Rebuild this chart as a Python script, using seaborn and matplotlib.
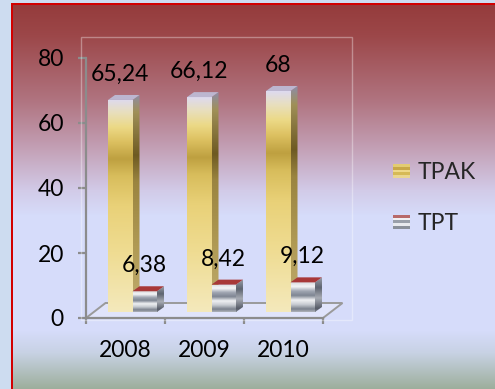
import numpy as np
import pandas as pd
import matplotlib
matplotlib.use("Agg")
import matplotlib.pyplot as plt
import seaborn as sns
from matplotlib.patches import Rectangle, Polygon
from matplotlib.colors import to_rgb
from matplotlib.legend_handler import HandlerBase

# ---- data ----
years = ["2008", "2009", "2010"]
tpak = [65.24, 66.12, 68]
tpt = [6.38, 8.42, 9.12]
series_names = ["TPAK", "TPT"]
yticks = [0, 20, 40, 60, 80]

sns.set_style("white")
plt.rcParams["font.family"] = ["Lato", "DejaVu Sans"]

W, H = 495, 389
fig = plt.figure(figsize=(W / 100, H / 100), dpi=100)


def px_box(left, top, right, bottom):
    return [left / W, 1 - bottom / H, (right - left) / W, (bottom - top) / H]


def ramp(stops, n):
    """Vertical colour ramp, stops given as (fraction_from_top, colour)."""
    pos = np.array([s[0] for s in stops])
    cols = np.array([to_rgb(s[1]) for s in stops])
    t = np.linspace(0, 1, n)
    out = np.stack([np.interp(t, pos, cols[:, k]) for k in range(3)], axis=-1)
    return out[:, None, :]


# ---- slide background ----
bg_stops = [(0, "#943a3a"), (35, "#9c4749"), (100, "#b07480"), (150, "#c4a2b8"),
            (190, "#d2cbe8"), (215, "#d6dcfa"), (330, "#d6dcfa"), (352, "#c8d2e4"),
            (389, "#9cae9a")]
rows = np.arange(H)
bgc = np.array([to_rgb(c) for _, c in bg_stops])
bpos = np.array([p for p, _ in bg_stops])
img = np.stack([np.interp(rows, bpos, bgc[:, k]) for k in range(3)], axis=-1)
img = np.repeat(img[:, None, :], W, axis=1)
outer = np.array(to_rgb("#cddcf0"))
red = np.array(to_rgb("#d20000"))
img[:3, :] = outer
img[:, :11] = outer
img[3:5, 11:] = red
img[3:, 11:13] = red
bg = fig.add_axes([0, 0, 1, 1], zorder=-10)
bg.imshow(img, extent=[0, W, H, 0], aspect="auto", interpolation="nearest")
bg.axis("off")

# faint plot-area outline
fig.patches.append(Rectangle((81 / W, 1 - 320 / H), (352 - 81) / W, (320 - 37) / H,
                             transform=fig.transFigure, fill=False,
                             edgecolor="white", alpha=0.35, lw=1))

# ---- frame axes: value axis, floor, category ticks ----
axis_grey = "#8c8c8c"
ax = fig.add_axes(px_box(86, 58, 323, 318))
ax.set_facecolor("none")
ax.set_xlim(-0.5, 2.5)
ax.set_ylim(0, 80)
for s in ["top", "right"]:
    ax.spines[s].set_visible(False)
for s in ["left", "bottom"]:
    ax.spines[s].set_color(axis_grey)
    ax.spines[s].set_linewidth(1.6)
ax.set_yticks(yticks)
ax.set_yticklabels([str(v) for v in yticks])
ax.set_xticks(range(len(years)))
ax.set_xticklabels(years)
ax.set_xticks([-0.5, 0.5, 1.5, 2.5], minor=True)
ax.tick_params(axis="y", length=6, width=1.6, color=axis_grey, pad=10,
               labelsize=16.5, labelcolor="black", left=True)
ax.tick_params(axis="x", which="major", length=0, pad=16, labelsize=16.5,
               labelcolor="black", bottom=True)
ax.tick_params(axis="x", which="minor", length=4, width=1.6, color=axis_grey,
               bottom=True)
ax.grid(False)

# 3D floor under the bars
px_x = 237 / 3.0   # pixels per category
px_y = 260 / 80.0  # pixels per value unit
FDX, FDY = 19.5 / px_x, 15 / px_y
floor = Polygon([(-0.5, 0), (-0.5 + FDX, FDY), (2.5 + FDX, FDY), (2.5, 0)],
                closed=True, facecolor="white", alpha=0.25, edgecolor="none",
                clip_on=False, zorder=1)
ax.add_patch(floor)
ax.add_patch(Polygon([(-0.5, 0), (-0.5 + FDX, FDY), (2.5 + FDX, FDY), (2.5, 0)],
                     closed=False, fill=False, edgecolor="#9a9a9a", lw=1.4,
                     clip_on=False, zorder=1.5))

# ---- bars axes (mid-depth plane) ----
axb = fig.add_axes(px_box(86 + 7, 58 - 6, 323 + 7, 318 - 6))
df = pd.DataFrame({"year": years * 2, "value": tpak + tpt,
                   "series": ["TPAK"] * 3 + ["TPT"] * 3})
sns.barplot(data=df, x="year", y="value", hue="series", hue_order=series_names,
            order=years, width=0.62, palette=["#e0c860", "#b0b4bc"],
            saturation=1, errorbar=None, legend=False, ax=axb)
axb.set_xlim(-0.5, 2.5)
axb.set_ylim(0, 80)
axb.set_facecolor("none")
axb.axis("off")

DX, DY = 7 / px_x, 5 / px_y

gold_front = [(0, "#dedaee"), (0.06, "#e8dfbe"), (0.13, "#ecd986"), (0.2, "#dcc060"),
              (0.28, "#bea040"), (0.36, "#d8bd5c"), (0.5, "#e9d178"),
              (0.72, "#efdc92"), (1.0, "#f4e9bc")]
gold_side = [(0, "#8e8ca6"), (0.08, "#a09058"), (0.28, "#6e5a22"), (0.4, "#9a8440"),
             (0.7, "#b09a54"), (1.0, "#c0ac70")]
gold_top = "#bcb6d0"
tpt_front = [(0, "#d8dade"), (0.15, "#f5f5f7"), (0.3, "#a0a6b2"), (0.45, "#7e8592"),
             (0.6, "#f0f1f3"), (0.75, "#c8ccd2"), (0.9, "#7a808c"), (1.0, "#b0b4bc")]
tpt_side = [(0, "#9aa0aa"), (0.3, "#5e6470"), (0.6, "#a8acb4"), (0.9, "#555a66"),
            (1.0, "#80858f")]
tpt_top = "#a83838"

styles = [(gold_front, gold_side, gold_top, 2), (tpt_front, tpt_side, tpt_top, 4)]

for cont, (front, side, top, z) in zip(axb.containers, styles):
    for p in cont.patches:
        x, w, h = p.get_x(), p.get_width(), p.get_height()
        p.set_facecolor("none")
        p.set_edgecolor("none")
        p.set_zorder(z)
        im = axb.imshow(ramp(front, 200), extent=[x, x + w, 0, h], aspect="auto",
                        zorder=z, interpolation="bilinear")
        im.set_clip_path(p)
        side_poly = Polygon([(x + w, 0), (x + w + DX, DY), (x + w + DX, h + DY), (x + w, h)],
                            closed=True, facecolor="none", edgecolor="none", zorder=z)
        axb.add_patch(side_poly)
        ims = axb.imshow(ramp(side, 200), extent=[x + w, x + w + DX, 0, h + DY],
                         aspect="auto", zorder=z, interpolation="bilinear")
        ims.set_clip_path(side_poly)
        axb.add_patch(Polygon([(x, h), (x + DX, h + DY), (x + w + DX, h + DY), (x + w, h)],
                              closed=True, facecolor=top, edgecolor="none", zorder=z + 0.5))

axb.set_xlim(-0.5, 2.5)
axb.set_ylim(0, 80)


def fmt(v):
    return ("%g" % v).replace(".", ",")


for cont, vals in zip(axb.containers, [tpak, tpt]):
    axb.bar_label(cont, labels=[fmt(v) for v in vals], padding=11, fontsize=16.5,
                  color="black")


# ---- legend with striped swatches ----
class StripeHandler(HandlerBase):
    def __init__(self, colors):
        super().__init__()
        self.colors = colors

    def create_artists(self, legend, orig_handle, xdescent, ydescent, width,
                       height, fontsize, trans):
        n = len(self.colors)
        hh = height / n
        return [Rectangle((-xdescent, -ydescent + height - (i + 1) * hh), width, hh,
                          facecolor=c, edgecolor="none", transform=trans)
                for i, c in enumerate(self.colors)]


h1 = Rectangle((0, 0), 1, 1)
h2 = Rectangle((0, 0), 1, 1)
gold_sw = ["#e2cc72", "#c8a848", "#eed888", "#d6ba56", "#ead690"]
tpt_sw = ["#b86a6a", "#f0f0f2", "#9aa0aa", "#e8eaee", "#8a909a"]
fig.legend(handles=[h1, h2], labels=series_names,
           handler_map={h1: StripeHandler(gold_sw), h2: StripeHandler(tpt_sw)},
           loc="center left", bbox_to_anchor=(393 / W, 1 - 198 / H),
           frameon=False, fontsize=16.5, handlelength=0.72, handleheight=0.55,
           handletextpad=0.35, labelspacing=1.3, borderpad=0, borderaxespad=0)

fig.savefig("out.png", dpi=100)
